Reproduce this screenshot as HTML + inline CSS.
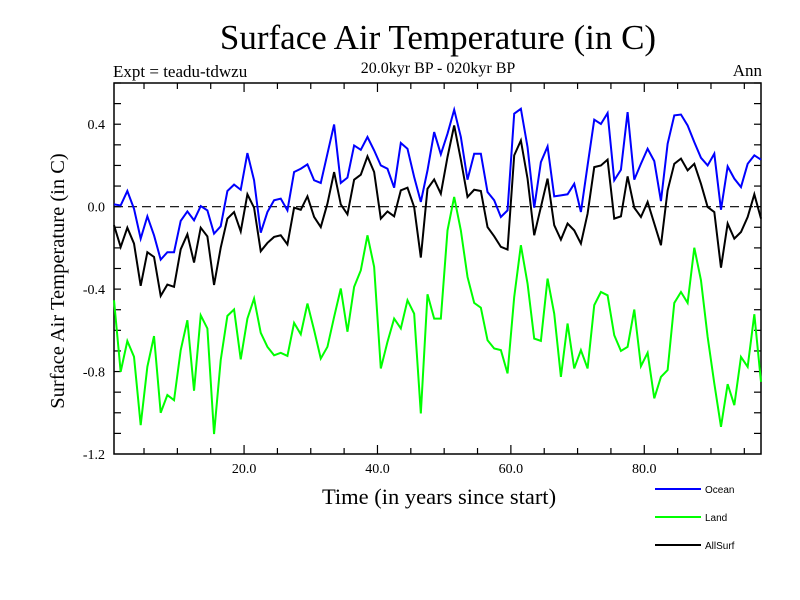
<!DOCTYPE html>
<html><head><meta charset="utf-8"><style>
body{margin:0;background:#fff}
svg{display:block}
text{font-family:"Liberation Serif",serif;fill:#000}
</style></head><body>
<svg id="chart" width="800" height="600" viewBox="0 0 800 600" xmlns="http://www.w3.org/2000/svg">
<text x="438" y="49" font-size="35" text-anchor="middle">Surface Air Temperature (in C)</text>
<text x="113" y="77" font-size="17">Expt = teadu-tdwzu</text>
<text x="438" y="73" font-size="16" text-anchor="middle">20.0kyr BP - 020kyr BP</text>
<text x="762" y="76" font-size="17" text-anchor="end">Ann</text>
<text transform="translate(64,281) rotate(-90)" font-size="20.5" text-anchor="middle">Surface Air Temperature (in C)</text>
<text x="439" y="504" font-size="22.5" text-anchor="middle">Time (in years since start)</text>
<g id="axes"></g>
<g id="series"></g>
<g id="legend"></g>
</svg>
<script>
const yTicks = [0.4, 0.0, -0.4, -0.8, -1.2];
const yTickLabels = ["0.4", "0.0", "-0.4", "-0.8", "-1.2"];
const xTicks = [20, 40, 60, 80];
const xTickLabels = ["20.0", "40.0", "60.0", "80.0"];
const ocean = [0.011,0.006,0.076,-0.01,-0.155,-0.047,-0.139,-0.257,-0.221,-0.221,-0.069,-0.023,-0.066,0.003,-0.018,-0.131,-0.095,0.076,0.107,0.082,0.26,0.128,-0.126,-0.026,0.031,
0.039,-0.018,0.168,0.184,0.205,0.128,0.115,0.257,0.399,0.115,0.141,0.297,0.276,0.338,0.273,0.2,0.184,0.092,0.309,0.281,0.144,0.023,0.176,0.362,
0.254,0.354,0.47,0.338,0.131,0.257,0.257,0.071,0.031,-0.05,-0.018,0.451,0.475,0.289,-0.005,0.216,0.292,0.05,0.055,0.06,0.111,-0.026,0.2,0.422,0.401,
0.454,0.128,0.179,0.459,0.131,0.208,0.281,0.221,0.027,0.305,0.443,0.447,0.394,0.313,0.237,0.2,0.257,-0.015,0.195,0.136,0.095,0.208,0.249,0.228];
const land = [-0.454,-0.801,-0.652,-0.728,-1.06,-0.777,-0.628,-1.0,-0.914,-0.939,-0.696,-0.551,-0.893,-0.527,-0.591,-1.103,-0.744,-0.53,-0.499,-0.741,-0.543,-0.446,-0.612,-0.68,-0.721,
-0.709,-0.724,-0.564,-0.619,-0.47,-0.599,-0.737,-0.68,-0.535,-0.397,-0.607,-0.389,-0.309,-0.139,-0.292,-0.785,-0.656,-0.543,-0.591,-0.454,-0.519,-1.003,-0.425,-0.543,
-0.543,-0.115,0.047,-0.115,-0.341,-0.467,-0.49,-0.648,-0.688,-0.696,-0.809,-0.438,-0.187,-0.373,-0.64,-0.651,-0.349,-0.519,-0.826,-0.567,-0.785,-0.696,-0.785,-0.478,-0.414,
-0.43,-0.624,-0.7,-0.68,-0.499,-0.774,-0.709,-0.93,-0.826,-0.793,-0.467,-0.414,-0.467,-0.199,-0.357,-0.632,-0.858,-1.068,-0.861,-0.963,-0.729,-0.777,-0.522,-0.85];
const allSurf = [-0.09,-0.196,-0.102,-0.179,-0.384,-0.221,-0.244,-0.433,-0.378,-0.389,-0.207,-0.134,-0.271,-0.102,-0.144,-0.38,-0.199,-0.058,-0.026,-0.12,0.06,-0.005,-0.216,-0.176,-0.147,
-0.139,-0.183,-0.005,-0.015,0.05,-0.05,-0.099,0.015,0.168,0.011,-0.037,0.131,0.155,0.244,0.168,-0.058,-0.023,-0.047,0.079,0.092,-0.002,-0.247,0.087,0.132,
0.063,0.241,0.394,0.228,0.047,0.082,0.076,-0.099,-0.144,-0.195,-0.208,0.249,0.321,0.136,-0.139,-0.002,0.136,-0.09,-0.16,-0.082,-0.115,-0.179,-0.034,0.192,0.2,
0.228,-0.058,-0.047,0.147,-0.005,-0.05,0.023,-0.082,-0.187,0.079,0.208,0.233,0.176,0.208,0.111,-0.002,-0.026,-0.296,-0.082,-0.155,-0.123,-0.05,0.06,-0.058];
const seriesNames = ["Ocean", "Land", "AllSurf"];
const seriesColors = ["#0000ff", "#00ff00", "#000000"];

const X0 = 114, X1 = 761, Y0 = 83, Y1 = 454;
const xMin = 0.5, xMax = 97.5, yMin = -1.2, yMax = 0.6;
const sx = v => X0 + (v - xMin) / (xMax - xMin) * (X1 - X0);
const sy = v => Y1 - (v - yMin) / (yMax - yMin) * (Y1 - Y0);
const NS = "http://www.w3.org/2000/svg";
function mk(tag, attrs, parent) {
  const e = document.createElementNS(NS, tag);
  for (const k in attrs) e.setAttribute(k, attrs[k]);
  parent.appendChild(e);
  return e;
}
const axes = document.getElementById('axes');
const frame = mk('rect', {x: X0, y: Y0, width: X1 - X0, height: Y1 - Y0, fill: 'none', stroke: '#000', 'stroke-width': 1.5}, axes);


const zl = mk('line', {x1: X0, x2: X1, y1: sy(0), y2: sy(0), stroke: '#000', 'stroke-width': 1.2, 'stroke-dasharray': '9,5'}, axes);


for (let v = -1.1; v < 0.6; v += 0.1) {
  const y = sy(v);
  const t1 = mk('line', {x1: X0, x2: X0 + 7, y1: y, y2: y, stroke: '#000', 'stroke-width': 1.2}, axes);
  
  
  const t2 = mk('line', {x1: X1 - 7, x2: X1, y1: y, y2: y, stroke: '#000', 'stroke-width': 1.2}, axes);
  
  
}
for (let v = 5; v < 97.5; v += 5) {
  const x = sx(v), L = (v % 20 === 0) ? 9 : 6;
  const t1 = mk('line', {x1: x, x2: x, y1: Y1, y2: Y1 - L, stroke: '#000', 'stroke-width': 1.2}, axes);
  
  
  const t2 = mk('line', {x1: x, x2: x, y1: Y0, y2: Y0 + L, stroke: '#000', 'stroke-width': 1.2}, axes);
  
  
}
yTicks.forEach((v, i) => {
  const t = mk('text', {x: X0 - 9, y: sy(v) + 5, 'font-size': 14, 'text-anchor': 'end'}, axes);
  t.textContent = yTickLabels[i];
  
  
});
xTicks.forEach((v, i) => {
  const t = mk('text', {x: sx(v), y: Y1 + 19, 'font-size': 14, 'text-anchor': 'middle'}, axes);
  t.textContent = xTickLabels[i];
  
  
});
const sg = document.getElementById('series');
[ocean, land, allSurf].forEach((arr, si) => {
  const pts = arr.map((v, i) => sx(i + 0.5) + ',' + sy(v)).join(' ');
  const p = mk('polyline', {points: pts, fill: 'none', stroke: seriesColors[si], 'stroke-width': 2, 'stroke-linejoin': 'miter'}, sg);
  
  
});
const lg = document.getElementById('legend');
seriesNames.forEach((n, i) => {
  const y = 489 + i * 28;
  const l = mk('line', {x1: 655, x2: 701, y1: y, y2: y, stroke: seriesColors[i], 'stroke-width': 2}, lg);
  
  
  const t = mk('text', {x: 705, y: y + 4, 'font-size': 10, style: 'font-family:"Liberation Sans",sans-serif'}, lg);
  t.textContent = n;
  
  
});
</script>
</body></html>
